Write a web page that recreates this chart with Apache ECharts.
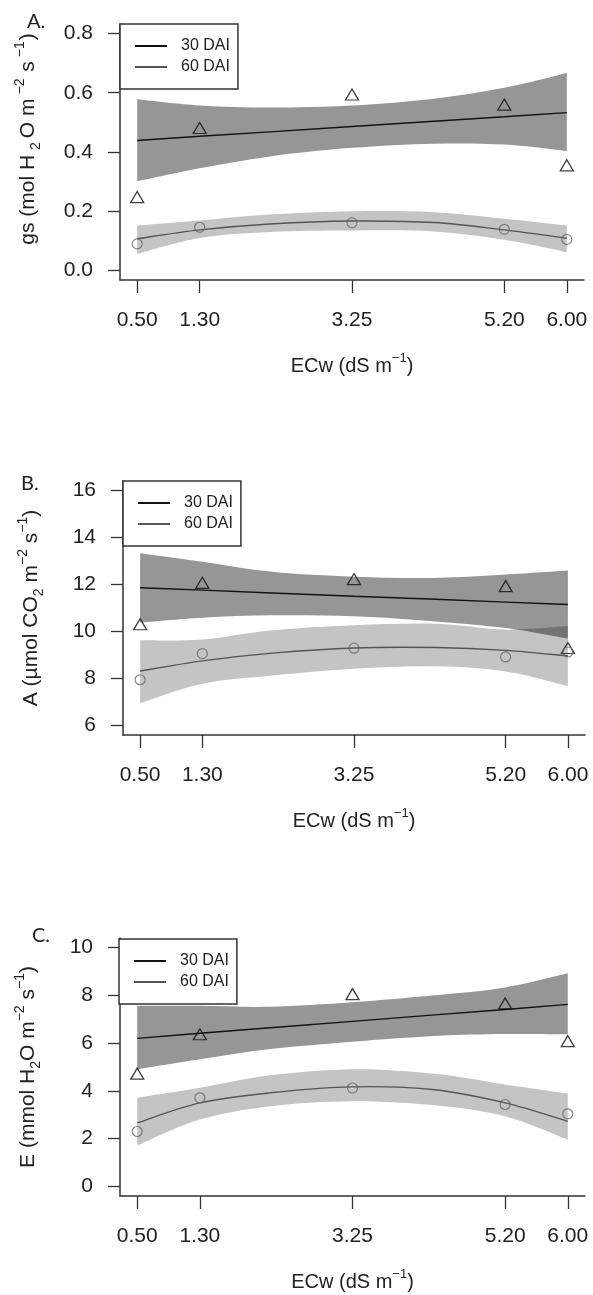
<!DOCTYPE html>
<html><head><meta charset="utf-8">
<script src="https://cdn.jsdelivr.net/npm/echarts@6/dist/echarts.min.js"></script>
<style>html,body{margin:0;padding:0;background:#fff}#c{width:593px;height:1295px}</style>
</head><body><div id="c"></div>
<script>
// ---------- data ----------
const ecw = [0.5, 1.3, 3.25, 5.2, 6.0];            // observed ECw levels
const fitX = [0.5, 1.3, 2.2, 3.25, 4.3, 5.2, 6.0]; // x positions where curves/bands were read
const ecwTicks = [0.5, 1.3, 3.25, 5.2, 6.0];

// Panel A: gs
const gsTicks = [0, 0.2, 0.4, 0.6, 0.8];
const gs30 = [0.248, 0.481, 0.594, 0.560, 0.355];
const gs60 = [0.090, 0.146, 0.161, 0.139, 0.105];
const gsFit30 = [0.439, 0.453, 0.468, 0.486, 0.504, 0.519, 0.533];
const gsFit60 = [0.107, 0.137, 0.157, 0.167, 0.162, 0.137, 0.109];
const gsBand30Up = [0.578, 0.557, 0.550, 0.557, 0.580, 0.617, 0.667];
const gsBand30Lo = [0.301, 0.345, 0.385, 0.414, 0.428, 0.425, 0.403];
const gsBand60Up = [0.152, 0.169, 0.189, 0.200, 0.197, 0.175, 0.152];
const gsBand60Lo = [0.056, 0.110, 0.130, 0.135, 0.132, 0.104, 0.062];

// Panel B: A
const aTicks = [6, 8, 10, 12, 14, 16];
const a30 = [10.31, 12.07, 12.23, 11.93, 9.30];
const a60 = [7.95, 9.06, 9.29, 8.92, 9.13];
const aFit30 = [11.86, 11.76, 11.64, 11.50, 11.37, 11.25, 11.15];
const aFit60 = [8.32, 8.75, 9.08, 9.30, 9.32, 9.20, 8.96];
const aBand30Up = [13.33, 12.97, 12.54, 12.33, 12.28, 12.42, 12.59];
const aBand30Lo = [10.38, 10.59, 10.69, 10.65, 10.43, 10.15, 9.70];
const aBand60Up = [9.63, 9.66, 10.05, 10.27, 10.33, 10.08, 10.23];
const aBand60Lo = [6.95, 7.78, 8.13, 8.42, 8.52, 8.30, 7.68];

// Panel C: E
const eTicks = [0, 2, 4, 6, 8, 10];
const e30 = [4.72, 6.37, 8.05, 7.66, 6.08];
const e60 = [2.30, 3.71, 4.12, 3.43, 3.04];
const eFit30 = [6.20, 6.41, 6.64, 6.91, 7.18, 7.41, 7.62];
const eFit60 = [2.66, 3.50, 3.92, 4.17, 4.05, 3.50, 2.73];
const eBand30Up = [7.56, 7.56, 7.52, 7.71, 8.00, 8.33, 8.92];
const eBand30Lo = [4.90, 5.32, 5.75, 6.06, 6.30, 6.38, 6.37];
const eBand60Up = [3.71, 4.13, 4.65, 4.91, 4.72, 4.27, 3.89];
const eBand60Lo = [1.71, 2.80, 3.36, 3.57, 3.40, 2.94, 1.96];

const seriesNames = ['30 DAI', '60 DAI'];

// ---------- styling / layout ----------
const FONT = '"Liberation Sans", Arial, Helvetica, sans-serif';
const AX = '#333';
const panels = [
  { grid: {left: 120, top: 24, width: 464, height: 256}, xr: [0.28, 6.22], yr: [-0.032, 0.832],
    ticks: gsTicks, dec: 1, obs30: gs30, obs60: gs60, fit30: gsFit30, fit60: gsFit60,
    b30u: gsBand30Up, b30l: gsBand30Lo, b60u: gsBand60Up, b60l: gsBand60Lo,
    yname: '{n|gs (mol H}{subw|2}{n|O m}{supw|−2}{n| s}{supw|−1}{n|)}', namePad: [0, 0, 0, 26],
    legend: {left: 120, top: 24}, tag: 'A.', tagPos: [27, 12] },
  { grid: {left: 123, top: 481, width: 462, height: 254}, xr: [0.28, 6.22], yr: [5.6, 16.4],
    ticks: aTicks, dec: 0, obs30: a30, obs60: a60, fit30: aFit30, fit60: aFit60,
    b30u: aBand30Up, b30l: aBand30Lo, b60u: aBand60Up, b60l: aBand60Lo,
    yname: '{n|A (µmol CO}{sub|2}{n| m}{sup|−2}{n| s}{sup|−1}{n|)}', namePad: [0, 0, 0, 0],
    legend: {left: 123, top: 481}, tag: 'B.', tagPos: [21, 474] },
  { grid: {left: 120, top: 938, width: 465, height: 258}, xr: [0.28, 6.22], yr: [-0.4, 10.4],
    ticks: eTicks, dec: 0, obs30: e30, obs60: e60, fit30: eFit30, fit60: eFit60,
    b30u: eBand30Up, b30l: eBand30Lo, b60u: eBand60Up, b60l: eBand60Lo,
    yname: '{n|E (mmol H}{sub|2}{n|O m}{sup|−2}{n| s}{sup|−1}{n|)}', namePad: [0, 0, 0, 0],
    legend: {left: 119, top: 939}, tag: 'C.', tagPos: [32, 926] }
];

const richName = {
  n: {fontFamily: FONT, fontSize: 21, color: '#222', lineHeight: 30},
  sup: {fontFamily: FONT, fontSize: 14, color: '#222', lineHeight: 14, verticalAlign: 'top'},
  sub: {fontFamily: FONT, fontSize: 14, color: '#222', lineHeight: 20, verticalAlign: 'bottom'},
  supw: {fontFamily: FONT, fontSize: 14, color: '#222', lineHeight: 14, verticalAlign: 'top', padding: [0, 1, 0, 4]},
  subw: {fontFamily: FONT, fontSize: 14, color: '#222', lineHeight: 20, verticalAlign: 'bottom', padding: [0, 4, 0, 5]}
};
const richX = {
  n: {fontFamily: FONT, fontSize: 20, color: '#222', lineHeight: 28},
  sup: {fontFamily: FONT, fontSize: 13, color: '#222', lineHeight: 13, verticalAlign: 'top'}
};

const pairs = (xs, ys) => xs.map((x, i) => [x, ys[i]]);

// smooth curve through pixel points (Catmull-Rom -> cubic Bezier)
function curve(pts, start) {
  let d = start ? 'M' + pts[0][0] + ' ' + pts[0][1] : 'L' + pts[0][0] + ' ' + pts[0][1];
  for (let i = 0; i < pts.length - 1; i++) {
    const p0 = pts[Math.max(i - 1, 0)], p1 = pts[i], p2 = pts[i + 1], p3 = pts[Math.min(i + 2, pts.length - 1)];
    const c1 = [p1[0] + (p2[0] - p0[0]) / 6, p1[1] + (p2[1] - p0[1]) / 6];
    const c2 = [p2[0] - (p3[0] - p1[0]) / 6, p2[1] - (p3[1] - p1[1]) / 6];
    d += 'C' + c1[0] + ' ' + c1[1] + ' ' + c2[0] + ' ' + c2[1] + ' ' + p2[0] + ' ' + p2[1];
  }
  return d;
}

const grids = [], xAxes = [], yAxes = [], series = [], legends = [], graphics = [];
panels.forEach((p, k) => {
  grids.push(Object.assign({containLabel: false}, p.grid));
  xAxes.push({
    type: 'value', gridIndex: k, min: p.xr[0], max: p.xr[1],
    name: '{n|ECw (dS m}{sup|−1}{n|)}', nameLocation: 'middle', nameGap: 72,
    nameTextStyle: {rich: richX},
    axisLine: {show: true, onZero: false, lineStyle: {color: AX, width: 1.5}},
    axisTick: {show: true, length: 13, customValues: ecwTicks, lineStyle: {color: AX, width: 1.3}},
    axisLabel: {customValues: ecwTicks, margin: 30, fontFamily: FONT, fontSize: 21, color: '#222',
      formatter: v => v.toFixed(2)},
    splitLine: {show: false}
  });
  yAxes.push({
    type: 'value', gridIndex: k, min: p.yr[0], max: p.yr[1],
    name: p.yname, nameLocation: 'middle', nameGap: 77, nameRotate: 90,
    nameTextStyle: {rich: richName, padding: p.namePad},
    axisLine: {show: true, onZero: false, lineStyle: {color: AX, width: 1.5}},
    axisTick: {show: true, length: 12, customValues: p.ticks, lineStyle: {color: AX, width: 1.3}},
    axisLabel: {customValues: p.ticks, margin: 27, fontFamily: FONT, fontSize: 21, color: '#222',
      formatter: v => v.toFixed(p.dec)},
    splitLine: {show: false}
  });
  const band = (up, lo, fill) => {
    series.push({
      type: 'custom', xAxisIndex: k, yAxisIndex: k, silent: true, z: 1,
      data: [[fitX[0], up[0]]],
      renderItem: (params, api) => {
        const u = fitX.map((x, i) => api.coord([x, up[i]]));
        const l = fitX.map((x, i) => api.coord([x, lo[i]])).reverse();
        const d = curve(u, true) + curve(l, false) + 'Z';
        return {type: 'path', shape: {pathData: d}, style: {fill: fill, stroke: null}};
      }
    });
  };
  band(p.b30u, p.b30l, 'rgba(0,0,0,0.41)');
  band(p.b60u, p.b60l, 'rgba(0,0,0,0.23)');
  // fitted lines (the line series also feed the legend icons)
  series.push({
    type: 'line', name: seriesNames[0], xAxisIndex: k, yAxisIndex: k, data: pairs(fitX, p.fit30),
    symbol: 'none', lineStyle: {color: '#111', width: 1.4}, itemStyle: {color: '#111'}, z: 3
  });
  series.push({
    type: 'line', name: seriesNames[1], xAxisIndex: k, yAxisIndex: k, data: [],
    symbol: 'none', lineStyle: {color: '#555', width: 1.4}, itemStyle: {color: '#555'}, z: 3
  });
  series.push({
    type: 'custom', name: 'fit60', xAxisIndex: k, yAxisIndex: k, silent: true, z: 3,
    data: [[fitX[0], p.fit60[0]]],
    renderItem: (params, api) => {
      const pts = fitX.map((x, i) => api.coord([x, p.fit60[i]]));
      return {type: 'path', shape: {pathData: curve(pts, true)},
        style: {fill: null, stroke: '#555', lineWidth: 1.4}};
    }
  });
  series.push({
    type: 'scatter', name: 'obs30', xAxisIndex: k, yAxisIndex: k, data: pairs(ecw, p.obs30),
    symbol: 'triangle', symbolSize: [13, 11],
    itemStyle: {color: 'rgba(0,0,0,0)', borderColor: '#111', borderWidth: 1.3}, z: 4
  });
  series.push({
    type: 'scatter', name: 'obs60', xAxisIndex: k, yAxisIndex: k, data: pairs(ecw, p.obs60),
    symbol: 'circle', symbolSize: 10,
    itemStyle: {color: 'rgba(0,0,0,0)', borderColor: '#666', borderWidth: 1.2}, z: 4
  });
  legends.push({
    data: seriesNames, orient: 'vertical', left: p.legend.left, top: p.legend.top,
    padding: [14, 8, 14, 14], itemWidth: 32, itemHeight: 14, itemGap: 5,
    backgroundColor: '#fff', borderColor: AX, borderWidth: 1.5, selectedMode: false,
    itemStyle: {opacity: 0},
    textStyle: {fontFamily: FONT, fontSize: 16, color: '#222', padding: [0, 0, 0, 9]}
  });
  graphics.push({
    type: 'text', left: p.tagPos[0], top: p.tagPos[1],
    style: {text: p.tag, font: '20px Lato, "Open Sans", sans-serif', fill: '#222'}
  });
});

const chart = echarts.init(document.getElementById('c'));
chart.setOption({
  animation: false,
  backgroundColor: '#fff',
  grid: grids, xAxis: xAxes, yAxis: yAxes, series: series, legend: legends, graphic: graphics
});
</script></body></html>
